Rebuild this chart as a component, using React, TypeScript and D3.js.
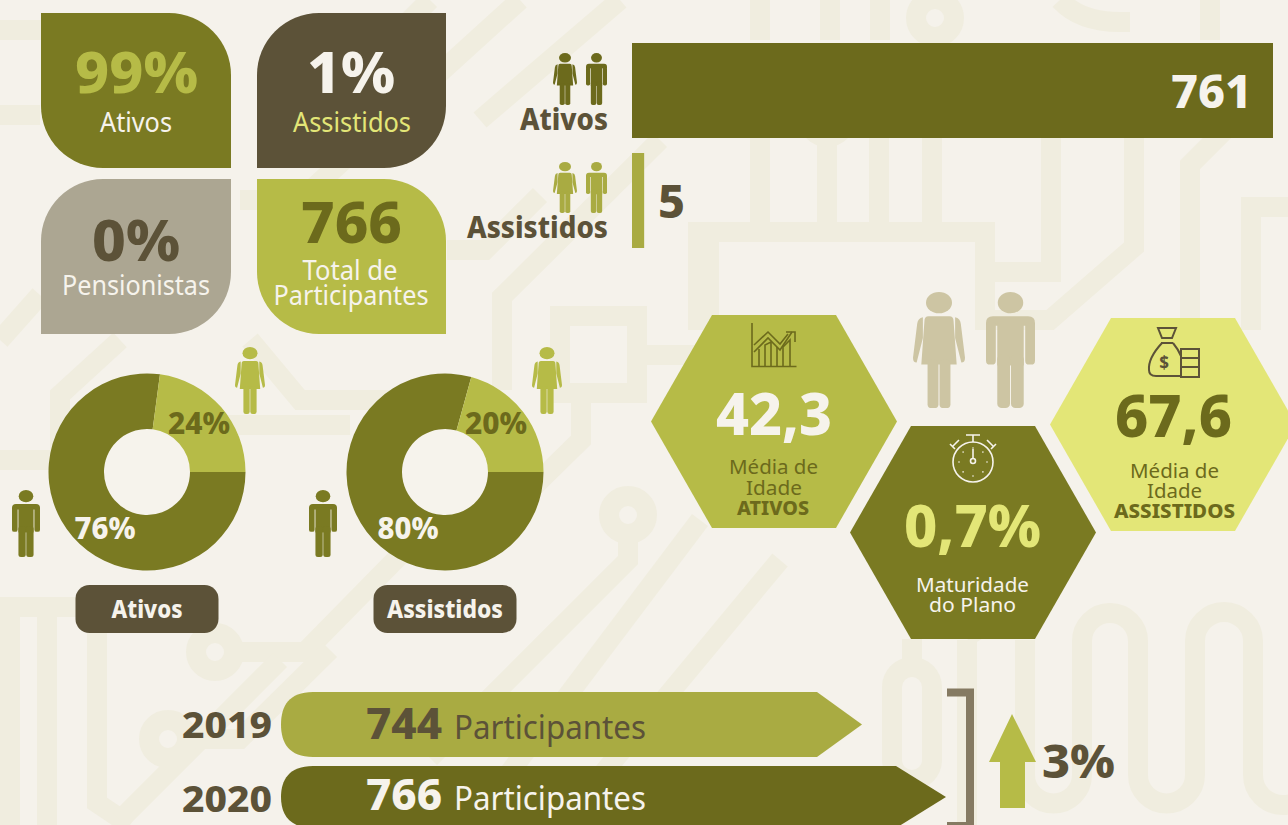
import React from "react";
import * as d3 from "d3";

const WIDTH = 1288;
const HEIGHT = 825;

// colors
const BG = "#f5f2eb";
const TRACE = "#f0eddf";
const OLIVE = "#7a7a22";
const OLIVE_DARK = "#6c6a1c";
const LIME = "#b6bb47";
const MOSS = "#a9ab42";
const PALE = "#e3e677";
const BROWN = "#5c5238";
const GREY = "#aca692";
const SAND = "#cdc5a3";
const LIGHT = "#f6f3ec";
const FONT = "'Noto Sans', sans-serif";

// data
const shareLabels = ["Ativos", "Assistidos", "Pensionistas"];
const shareValues = [99, 1, 0];
const totalParticipants = 766;
const countLabels = ["Ativos", "Assistidos"];
const countValues = [761, 5];
const donutTitles = ["Ativos", "Assistidos"];
const menShare = [76, 80];
const womenShare = [24, 20];
const menSlice = [77.1, 79.3];
const womenSlice = [22.9, 20.7];
const ageActive = "42,3";
const ageRetired = "67,6";
const maturity = "0,7%";
const years = ["2019", "2020"];
const yearTotals = [744, 766];
const growth = "3%";

// background circuit traces (decoration only)
const traces = [
  "M698,330V232H985V330", "M709,232V320", "M760,120V232", "M827,120V232", "M879,120V232", "M932,120V232",
  "M1051,130V272H985", "M1134,130V247L1050,320H985", "M1190,330V165L1230,125", "M1251,330V207H1288",
  "M1025,640V775A28,28 0 0 0 1082,775V641A28,28 0 0 1 1138,641V775A28,28 0 0 0 1195,775V641A29,29 0 0 1 1253,641V775A30,30 0 0 0 1313,775",
  "M912,639V672", "M967,640V825", "M0,607H85", "M47,607V825", "M97,633V803L130,825", "M10,607V825",
  "M240,652H305L410,545", "M195,739H240L330,650", "M447,250H485L540,195", "M502,390V297L660,140",
  "M581,393V440L530,490", "M637,355H700", "M628,534V560L430,758", "M700,520L470,825", "M780,560L560,825",
  "M0,30H200", "M0,115H40", "M430,0L350,80", "M520,0L300,200H240", "M0,340L40,295", "M250,340L300,400H440", "M200,425H350",
  "M120,340L60,395V460H0", "M620,0L480,120", "M760,0V40", "M830,0V40", "M880,0V40", "M1060,0Q1080,22 1120,22H1130", "M1210,0V40",
  "M120,820L280,660", "M900,520L980,640",
];
const circuitHoles = [
  [215, 652], [168, 739], [628, 515], [827, 118], [935, 18],
];
const capsules = [
  { x: 892, y: 667, w: 40, h: 113 },
];

// rounded "leaf" tile, corners = [tl, tr, br, bl]
const leafPath = (x: number, y: number, w: number, h: number, c: number[]) => {
  const p = d3.path();
  p.moveTo(x + c[0], y);
  p.lineTo(x + w - c[1], y);
  p.arcTo(x + w, y, x + w, y + c[1], c[1]);
  p.lineTo(x + w, y + h - c[2]);
  p.arcTo(x + w, y + h, x + w - c[2], y + h, c[2]);
  p.lineTo(x + c[3], y + h);
  p.arcTo(x, y + h, x, y + h - c[3], c[3]);
  p.lineTo(x, y + c[0]);
  p.arcTo(x, y, x + c[0], y, c[0]);
  p.closePath();
  return p.toString();
};

const hexPath = (x0: number, x1: number, y0: number, y1: number, inset: number) =>
  d3.line()([
    [x0 + inset, y0], [x1 - inset, y0], [x1, (y0 + y1) / 2],
    [x1 - inset, y1], [x0 + inset, y1], [x0, (y0 + y1) / 2],
  ]) + "Z";

// text with a width fitted to the picture
const T = ({ x, y, s, w, size, fill, bold, anchor = "middle" }: any) => (
  <text x={x} y={y} fontFamily={FONT} fontSize={size} fontWeight={bold ? 800 : 400} fill={fill}
    textAnchor={anchor} textLength={w} lengthAdjust="spacingAndGlyphs">{s}</text>
);

// multi-line block, one text element
const Lines = ({ lines, size, fill }: any) => (
  <text fontFamily={FONT} fontSize={size} fill={fill} textAnchor="middle">
    {lines.map((l: any, i: number) => (
      <tspan key={i} x={l.x} y={l.y} textLength={l.w} lengthAdjust="spacingAndGlyphs" fontWeight={l.bold ? 800 : 400}>{l.s}</tspan>
    ))}
  </text>
);

const Person = ({ kind, x0, x1, y0, y1, fill }: any) => {
  const t = `translate(${x0},${y0}) scale(${(x1 - x0) / 100},${(y1 - y0) / 240})`;
  if (kind === "f") {
    return (
      <g transform={t} fill={fill}>
        <ellipse cx={50} cy={22} rx={25} ry={22} />
        <path d="M30,50H70Q78,50 78,60L84,150H16L22,60Q22,50 30,50Z" />
        <path d="M19,52Q9,54 8,66L0,136Q0,146 7,146L19,95Z" />
        <path d="M81,52Q91,54 92,66L100,136Q100,146 93,146L81,95Z" />
        <rect x={28} y={140} width={21} height={100} rx={8} />
        <rect x={51} y={140} width={21} height={100} rx={8} />
      </g>
    );
  }
  return (
    <g transform={t} fill={fill}>
      <ellipse cx={50} cy={22} rx={26} ry={22} />
      <path d="M14,50H86Q100,50 100,64V70H0V64Q0,50 14,50Z" />
      <rect x={0} y={62} width={20} height={88} rx={8} />
      <rect x={80} y={62} width={20} height={88} rx={8} />
      <rect x={23} y={62} width={54} height={90} />
      <rect x={23} y={130} width={26} height={110} rx={9} />
      <rect x={51} y={130} width={26} height={110} rx={9} />
    </g>
  );
};

const ChartIcon = () => (
  <g fill="none" stroke={OLIVE_DARK} strokeWidth={1.6}>
    <path d="M752,323V366.5H796.5" />
    <path d="M754,352L768,338L780,350L792,332" />
    <path d="M786,332H795V342" />
    <path d="M759,366V349M765,366V345L771,342V366M777,366V347M783,366V347L790,340V366" />
    <path d="M754,345L768,332L780,344L788,334" />
  </g>
);

const Stopwatch = () => (
  <g fill="none" stroke={LIGHT} strokeWidth={1.6}>
    <circle cx={973} cy={462} r={20} />
    <path d="M966,435H980M973,435V442M953,446L959,440M993,446L987,440M950,444L955,449M996,444L991,449" />
    <path d="M973,449V458" />
    <circle cx={973} cy={461} r={2.5} />
    {d3.range(8).map(i => {
      const a = (i / 8) * 2 * Math.PI;
      return <circle key={i} cx={973 + 14 * Math.sin(a)} cy={462 - 14 * Math.cos(a)} r={0.8} fill={LIGHT} stroke="none" />;
    })}
  </g>
);

const BagIcon = () => (
  <g fill="none" stroke={BROWN} strokeWidth={2}>
    <path d="M1158,328H1176L1172,338H1162Z" />
    <path d="M1161,343H1173" />
    <path d="M1162,343Q1148,358 1149,370Q1149,376 1156,376H1180" />
    <path d="M1173,343Q1178,349 1181,356" />
    <path d="M1181,349H1199V377H1181ZM1181,358H1199M1181,367H1199" />
    <text x={1164} y={369} fontFamily={FONT} fontSize={17} fontWeight={700} fill={BROWN} stroke="none" textAnchor="middle">$</text>
  </g>
);

const Donut = ({ cx, cy, i: idx, labelA, labelB }: any) => {
  const title = donutTitles[idx];
  const slices = d3.pie<number>().sort(null).startAngle(Math.PI / 2).endAngle(Math.PI * 2.5)([menSlice[idx], womenSlice[idx]]);
  const arc = d3.arc<d3.PieArcDatum<number>>().innerRadius(43).outerRadius(98.5);
  return (
    <g>
      <circle cx={cx} cy={cy} r={43} fill={LIGHT} />
      {slices.map((s, i) => (
        <path key={i} d={arc(s) ?? ""} transform={`translate(${cx},${cy})`} fill={i === 0 ? OLIVE : LIME} />
      ))}
      <T x={cx + labelA} y={cy + 67} s={`${menShare[idx]}%`} w={61} size={30} bold fill={LIGHT} />
      <T x={cx + labelB} y={cy - 38} s={`${womenShare[idx]}%`} w={62} size={30} bold fill={OLIVE_DARK} />
      <rect x={cx - 71.5} y={585} width={143} height={48} rx={14} fill={BROWN} />
      <T x={cx} y={618} s={title} w={title === "Ativos" ? 71 : 116} size={24} bold fill={LIGHT} />
    </g>
  );
};

export default function App() {
  // bars keep a minimum stub, like the original
  const countScale = d3.scaleLinear().domain([0, 761]).range([640, 1273]);
  // the arrows are drawn on a truncated scale
  const arrowScale = d3.scaleLinear().domain([744, 766]).range([862, 946]);

  const arrowPath = (v: number, y0: number, y1: number, notch: number) => {
    const tip = arrowScale(v);
    const p = d3.path();
    const r = 32;
    p.moveTo(281 + r, y0);
    p.lineTo(tip - notch, y0);
    p.lineTo(tip, (y0 + y1) / 2);
    p.lineTo(tip - notch, y1);
    p.lineTo(281 + r, y1);
    p.bezierCurveTo(281 + 8, y1, 281, y1 - 14, 281, (y0 + y1) / 2);
    p.bezierCurveTo(281, y0 + 14, 281 + 8, y0, 281 + r, y0);
    p.closePath();
    return p.toString();
  };

  return (
    <svg width={WIDTH} height={HEIGHT} viewBox={`0 0 ${WIDTH} ${HEIGHT}`}
      style={{ position: "fixed", left: 0, top: 0, display: "block" }}>
      <rect width={WIDTH} height={HEIGHT} fill={BG} />

      {/* background circuit */}
      <g fill="none" stroke={TRACE} strokeWidth={20}>
        {traces.map((d, i) => <path key={i} d={d} />)}
        <rect x={560} y={316} width={77} height={77} />
        {capsules.map((c, i) => <rect key={i} x={c.x} y={c.y} width={c.w} height={c.h} rx={20} />)}
        {circuitHoles.map(([cx, cy], i) => <circle key={i} cx={cx} cy={cy} r={19} />)}
      </g>

      {/* share tiles */}
      <path d={leafPath(41, 13, 190, 155, [0, 62, 0, 62])} fill={OLIVE} />
      <path d={leafPath(257, 13, 189, 155, [62, 0, 62, 0])} fill={BROWN} />
      <path d={leafPath(41, 179, 190, 155, [62, 0, 62, 0])} fill={GREY} />
      <path d={leafPath(257, 179, 189, 155, [0, 62, 0, 62])} fill={LIME} />
      <T x={136.5} y={93} s={`${shareValues[0]}%`} w={123} size={57} bold fill={LIME} />
      <T x={136} y={132} s={shareLabels[0]} w={72} size={27} fill={LIGHT} />
      <T x={351} y={93} s={`${shareValues[1]}%`} w={88} size={57} bold fill={LIGHT} />
      <T x={352} y={132} s={shareLabels[1]} w={118} size={27} fill={PALE} />
      <T x={136} y={261} s={`${shareValues[2]}%`} w={88} size={57} bold fill={BROWN} />
      <T x={136} y={295} s={shareLabels[2]} w={148} size={27} fill={LIGHT} />
      <T x={351.5} y={243} s={`${totalParticipants}`} w={101} size={57} bold fill={OLIVE_DARK} />
      <Lines size={27} fill={LIGHT} lines={[
        { s: "Total de", x: 350, y: 280, w: 95 },
        { s: "Participantes", x: 351, y: 305, w: 155 },
      ]} />

      {/* counts */}
      <Person kind="f" x0={553} x1={577} y0={53} y1={105} fill={OLIVE_DARK} />
      <Person kind="m" x0={586} x1={607} y0={53} y1={105} fill={OLIVE_DARK} />
      <Person kind="f" x0={553} x1={577} y0={162} y1={213} fill={MOSS} />
      <Person kind="m" x0={586} x1={607} y0={162} y1={213} fill={MOSS} />
      <T x={608} y={130} s={countLabels[0]} w={88} size={30} bold fill={BROWN} anchor="end" />
      <T x={608} y={238} s={countLabels[1]} w={141} size={30} bold fill={BROWN} anchor="end" />
      <rect x={632} y={43} width={countScale(countValues[0]) - 632} height={95} fill={OLIVE_DARK} />
      <rect x={632} y={153} width={countScale(countValues[1]) - 632} height={95} fill={MOSS} />
      <T x={1252} y={108} s={`${countValues[0]}`} w={81} size={46} bold fill={LIGHT} anchor="end" />
      <T x={658} y={218} s={`${countValues[1]}`} w={27} size={46} bold fill={BROWN} anchor="start" />

      {/* gender donuts */}
      <Donut cx={147} cy={472} i={0} labelA={-42} labelB={52} />
      <Donut cx={445} cy={472} i={1} labelA={-37} labelB={51} />
      <Person kind="f" x0={235} x1={265} y0={347} y1={414} fill={LIME} />
      <Person kind="m" x0={12} x1={40} y0={490} y1={557} fill={OLIVE} />
      <Person kind="f" x0={532} x1={562} y0={347} y1={414} fill={LIME} />
      <Person kind="m" x0={309} x1={337} y0={490} y1={557} fill={OLIVE} />

      {/* age hexagons */}
      <Person kind="f" x0={913} x1={965} y0={292} y1={408} fill={SAND} />
      <Person kind="m" x0={986} x1={1035} y0={292} y1={408} fill={SAND} />
      <path d={hexPath(651, 897, 315, 528, 61)} fill={LIME} />
      <path d={hexPath(850, 1096, 426, 639, 61)} fill={OLIVE} />
      <path d={hexPath(1050, 1296, 318, 531, 61)} fill={PALE} />
      <ChartIcon />
      <Stopwatch />
      <BagIcon />
      <T x={774} y={435} s={ageActive} w={116} size={58} bold fill={LIGHT} />
      <Lines size={20} fill={OLIVE_DARK} lines={[
        { s: "Média de", x: 773.5, y: 474, w: 89 },
        { s: "Idade", x: 774, y: 495, w: 56 },
        { s: "ATIVOS", x: 773, y: 515, w: 72, bold: true },
      ]} />
      <T x={972.5} y={547} s={maturity} w={137} size={58} bold fill={PALE} />
      <Lines size={20} fill={LIGHT} lines={[
        { s: "Maturidade", x: 972.5, y: 592, w: 113 },
        { s: "do Plano", x: 972.5, y: 612, w: 87 },
      ]} />
      <T x={1173.5} y={437} s={ageRetired} w={117} size={58} bold fill={OLIVE_DARK} />
      <Lines size={20} fill={OLIVE_DARK} lines={[
        { s: "Média de", x: 1174.5, y: 478, w: 89 },
        { s: "Idade", x: 1174.5, y: 498, w: 55 },
        { s: "ASSISTIDOS", x: 1174.5, y: 518, w: 121, bold: true },
      ]} />

      {/* year over year */}
      <path d={arrowPath(yearTotals[0], 692, 757, 45)} fill={MOSS} />
      <path d={arrowPath(yearTotals[1], 766, 828, 50)} fill={OLIVE_DARK} />
      <T x={272} y={738} s={years[0]} w={90} size={36} bold fill={BROWN} anchor="end" />
      <T x={272} y={812} s={years[1]} w={90} size={36} bold fill={BROWN} anchor="end" />
      <T x={366} y={739} s={`${yearTotals[0]}`} w={76} size={42} bold fill={BROWN} anchor="start" />
      <T x={366} y={810} s={`${yearTotals[1]}`} w={76} size={42} bold fill={LIGHT} anchor="start" />
      <T x={454} y={739} s="Participantes" w={192} size={33} fill={BROWN} anchor="start" />
      <T x={454} y={810} s="Participantes" w={192} size={33} fill={LIGHT} anchor="start" />
      <path d="M947,692.5H970V825" fill="none" stroke="#857a62" strokeWidth={8} />
      <path d="M947,825H970" fill="none" stroke="#857a62" strokeWidth={6} />
      <path d="M1012,714L1036,762H1025V808H1000V762H989Z" fill={LIME} />
      <T x={1042} y={778} s={growth} w={73} size={46} bold fill={BROWN} anchor="start" />
    </svg>
  );
}
